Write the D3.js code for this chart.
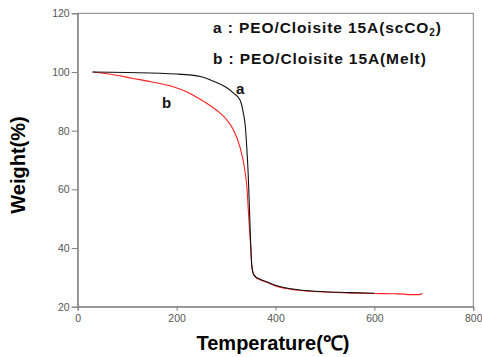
<!DOCTYPE html>
<html><head><meta charset="utf-8">
<script src="https://cdn.jsdelivr.net/npm/d3@7"></script>
<style>body{margin:0;background:#fff}svg{display:block}</style>
</head><body>
<script>
// Data
const tempA = [30, 100, 200, 250, 275, 300, 315, 328, 335, 339, 342, 345, 348, 350, 352, 355, 360, 370, 382, 400, 425, 450, 500, 550, 600];
const weightA = [100, 99.8, 99.3, 98.4, 96.8, 94.8, 92.8, 90.5, 86, 81.4, 74, 64.3, 50, 40.5, 34, 31.4, 30.2, 29.3, 28.5, 27.3, 26.3, 25.7, 25.1, 24.8, 24.6];
const tempB = [30, 60, 112, 150, 193, 220, 247, 270, 288, 300, 315, 328, 338, 342, 345, 348, 350, 352, 355, 360, 370, 382, 400, 425, 450, 500, 550, 600, 640, 660, 670, 690, 697];
const weightB = [100, 99.4, 97.8, 96.6, 95, 93.3, 90.8, 88.3, 86, 84, 80.2, 74.5, 66.5, 61, 53, 45, 40.5, 34, 31.2, 30, 29.1, 28.3, 27.1, 26.1, 25.5, 25, 24.7, 24.5, 24.4, 24.3, 24.1, 24.1, 24.5];
const xTicks = [0, 200, 400, 600, 800];
const yTicks = [20, 40, 60, 80, 100, 120];
const legendA = "a : PEO/Cloisite 15A(scCO";
const legendB = "b : PEO/Cloisite 15A(Melt)";

const W = 482, H = 357;
const m = {left: 77.7, right: 482 - 473.3, top: 13.3, bottom: 357 - 306.7};
const svg = d3.select("body").append("svg").attr("width", W).attr("height", H);
const x = d3.scaleLinear().domain([0, 800]).range([m.left, W - m.right]);
const y = d3.scaleLinear().domain([20, 120]).range([H - m.bottom, m.top]);

// frame
svg.append("rect").attr("x", x(0)).attr("y", y(120)).attr("width", x(800) - x(0)).attr("height", y(20) - y(120))
  .attr("fill", "none").attr("stroke", "#808080").attr("stroke-width", 1);

const xAxis = svg.append("g").attr("transform", `translate(0,${y(20)})`)
  .call(d3.axisBottom(x).tickValues(xTicks).tickSize(4).tickPadding(4).tickFormat(d3.format("d")));
const yAxis = svg.append("g").attr("transform", `translate(${x(0)},0)`)
  .call(d3.axisLeft(y).tickValues(yTicks).tickSize(6).tickPadding(2).tickFormat(d3.format("d")));
[xAxis, yAxis].forEach(g => {
  g.select(".domain").attr("stroke", "#808080");
  g.selectAll(".tick line").attr("stroke", "#808080");
  g.selectAll(".tick text").attr("fill", "#555").attr("font-family", "Liberation Sans, Arial, sans-serif").attr("font-size", 10.5);
});

const line = d3.line().x(d => x(d[0])).y(d => y(d[1])).curve(d3.curveMonotoneX);
svg.append("path").datum(tempB.map((t, i) => [t, weightB[i]]))
  .attr("d", line).attr("fill", "none").attr("stroke", "#ff2020").attr("stroke-width", 1.1);
svg.append("path").datum(tempA.map((t, i) => [t, weightA[i]]))
  .attr("d", line).attr("fill", "none").attr("stroke", "#111").attr("stroke-width", 1.1);

const font = "Liberation Sans, Arial, sans-serif";
// legend
const la = svg.append("text").attr("x", 213).attr("y", 33).attr("font-family", font).attr("font-size", 15.5)
  .attr("letter-spacing", 0.9).attr("font-weight", "bold").attr("fill", "#111");
la.append("tspan").text(legendA);
la.append("tspan").attr("font-size", 10).attr("dy", 3).text("2");
la.append("tspan").attr("dy", -3).text(")");
svg.append("text").attr("x", 213).attr("y", 64).attr("font-family", font).attr("font-size", 15.5)
  .attr("letter-spacing", 0.9).attr("font-weight", "bold").attr("fill", "#111").text(legendB);

// curve labels
svg.append("text").attr("x", 236).attr("y", 94).attr("font-family", font).attr("font-size", 15).attr("font-weight", "bold").attr("fill", "#111").text("a");
svg.append("text").attr("x", 162).attr("y", 108).attr("font-family", font).attr("font-size", 15).attr("font-weight", "bold").attr("fill", "#111").text("b");

// axis titles
svg.append("text").attr("x", 273).attr("y", 350).attr("text-anchor", "middle").attr("font-family", font)
  .attr("font-size", 20).attr("font-weight", "bold").attr("fill", "#000").text("Temperature(℃)");
svg.append("text").attr("transform", `translate(25,165) rotate(-90)`).attr("text-anchor", "middle")
  .attr("font-family", font).attr("font-size", 20).attr("font-weight", "bold").attr("fill", "#000").text("Weight(%)");
</script>
</body></html>
